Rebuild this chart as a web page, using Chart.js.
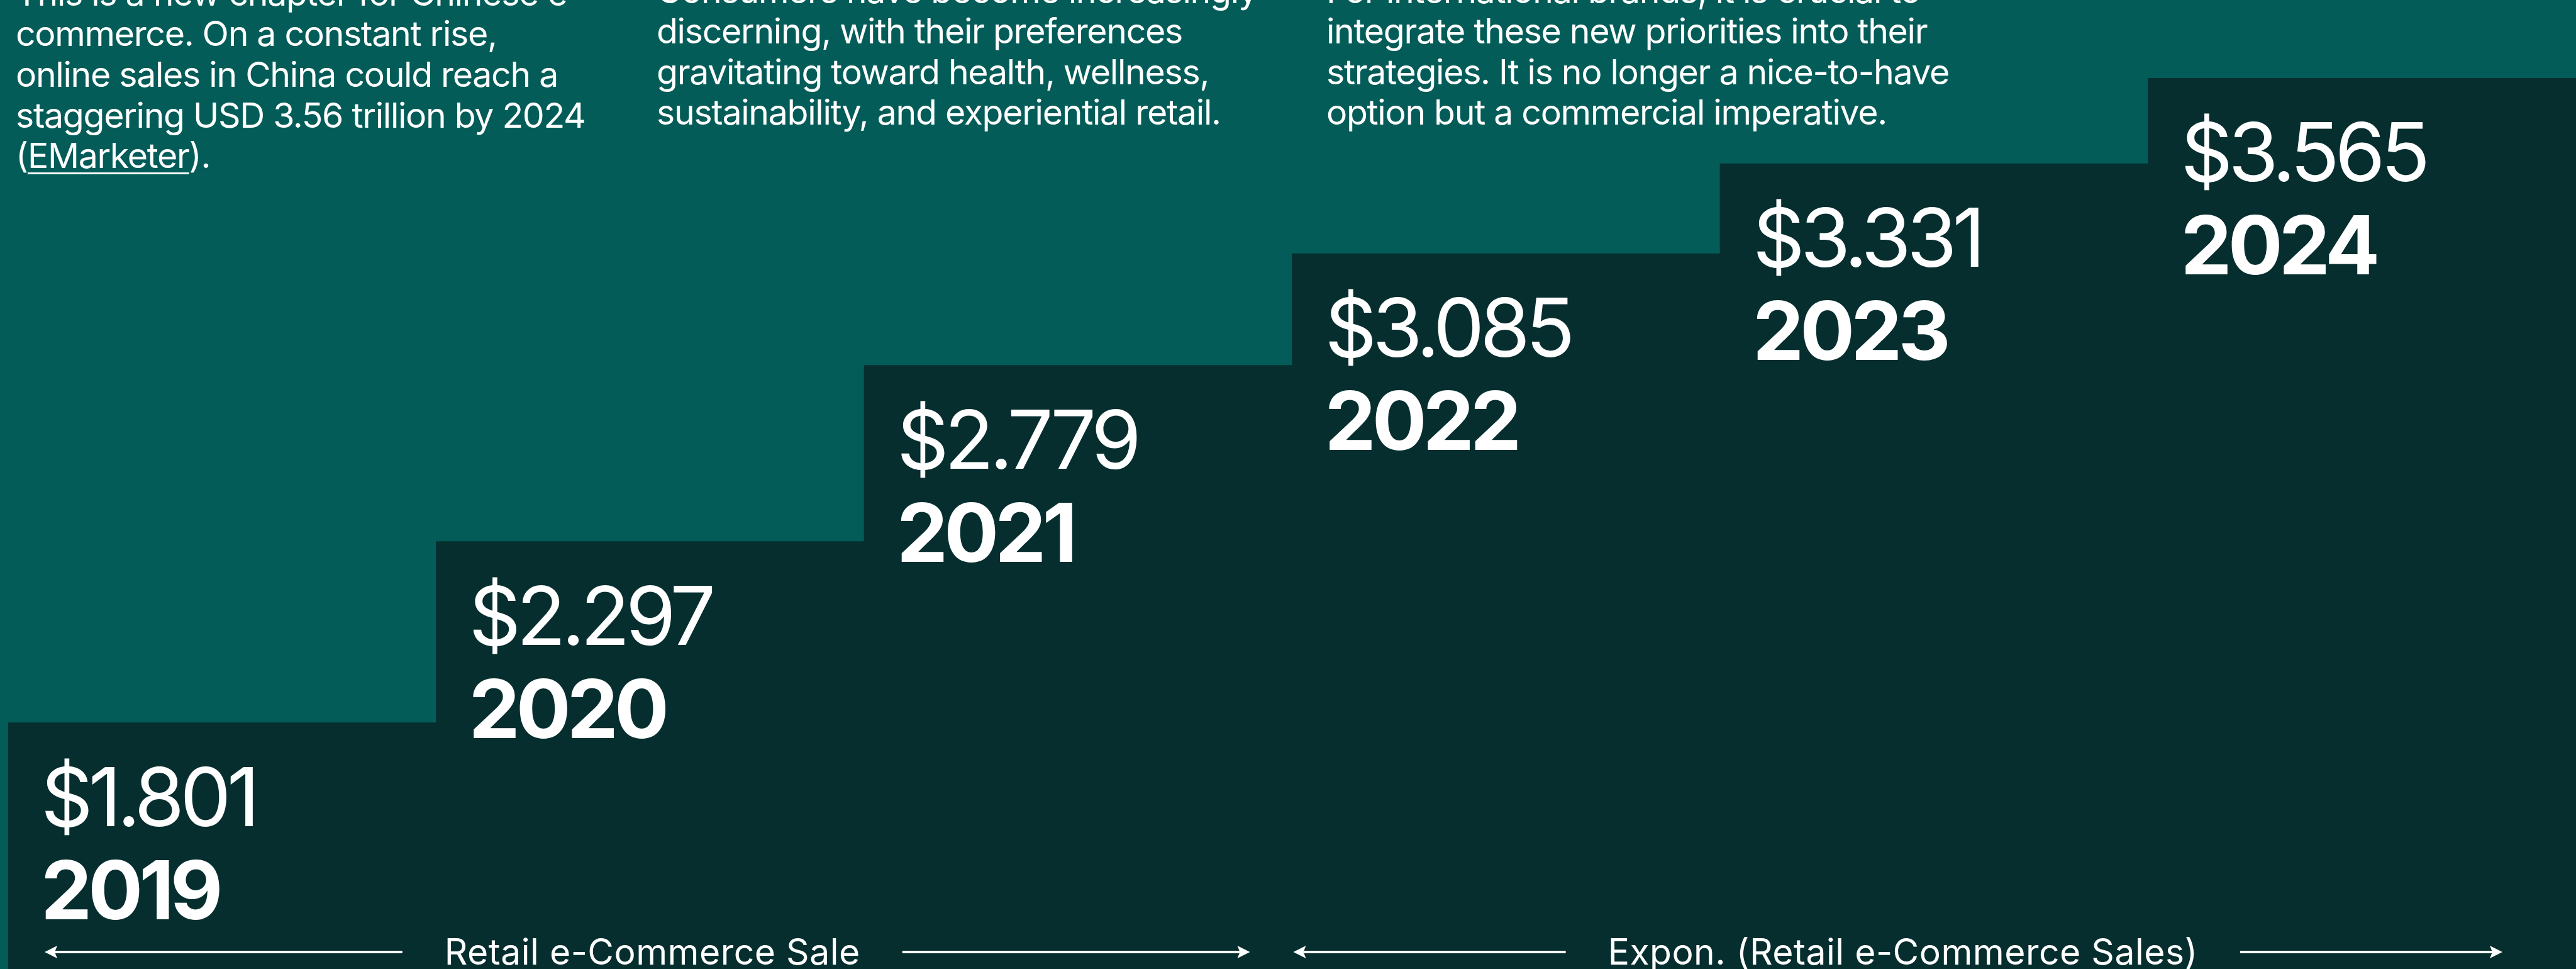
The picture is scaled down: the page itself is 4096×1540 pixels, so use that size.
<!DOCTYPE html>
<html>
<head>
<meta charset="utf-8">
<script src="https://cdn.jsdelivr.net/npm/chart.js@4"></script>
<style>
  body { margin: 0; background: #035c58; overflow: hidden; }
  #wrap { position: relative; width: 4096px; height: 1540px; overflow: hidden; }
  #salesChart { position: absolute; left: 0; top: 0; }
  .note {
    position: absolute; margin: 0; color: #fff;
    font-family: Inter, "Noto Sans", sans-serif; font-weight: 400;
    font-size: 55.4px; line-height: 64.6px; letter-spacing: -1.3px;
    white-space: nowrap;
  }
  .note u { text-decoration-thickness: 3px; text-underline-offset: 7px; }
</style>
</head>
<body>
<div id="wrap">
  <canvas id="salesChart" width="4096" height="1540"></canvas>
  <p class="note" style="left:25px; top:-43.2px">This is a new chapter for Chinese e-<br>commerce. On a constant rise,<br>online sales in China could reach a<br>staggering USD 3.56 trillion by 2024<br>(<u>EMarketer</u>).</p>
  <p class="note" style="left:1044px; top:-47.4px">Consumers have become increasingly<br>discerning, with their preferences<br>gravitating toward health, wellness,<br>sustainability, and experiential retail.</p>
  <p class="note" style="left:2109px; top:-47.4px">For international brands, it is crucial to<br>integrate these new priorities into their<br>strategies. It is no longer a nice-to-have<br>option but a commercial imperative.</p>
</div>
<script>
// retail e-commerce sales, trillion USD
var years = ['2019', '2020', '2021', '2022', '2023', '2024'];
var sales = [1.801, 2.297, 2.779, 3.085, 3.331, 3.565];
var valueLabels = ['$1.801', '$2.297', '$2.779', '$3.085', '$3.331', '$3.565'];

// bottom captions and the bars they span
var groupLabels = ['Retail e-Commerce Sale', 'Expon. (Retail e-Commerce Sales)'];
var groupRanges = [[0, 2], [3, 5]];

var barColor = '#062e2e';
var textFont = 'Inter, "Noto Sans", sans-serif';

// value + year written in the top left corner of each step
var barLabels = {
    id: 'barLabels',
    afterDatasetsDraw: function (chart) {
        var ctx = chart.ctx;
        var bars = chart.getDatasetMeta(0).data;
        ctx.save();
        ctx.fillStyle = '#fff';
        ctx.textAlign = 'left';
        ctx.textBaseline = 'alphabetic';
        bars.forEach(function (bar, i) {
            var left = bar.x - bar.width / 2 + 52;
            ctx.font = '400 129px ' + textFont;
            ctx.letterSpacing = '-7px';
            ctx.fillText(valueLabels[i], left, bar.y + 164);
            ctx.font = '700 129px ' + textFont;
            ctx.letterSpacing = '-6px';
            ctx.fillText(years[i], left, bar.y + 312);
        });
        ctx.restore();
    }
};

// arrows under the bars: <---- caption ---->
var bracketInsets = [[58, 67], [2, 117]];

function arrowLine(ctx, from, to, y) {
    var dir = to > from ? 1 : -1;
    ctx.beginPath();
    ctx.moveTo(from, y);
    ctx.lineTo(to - dir * 16, y);
    ctx.stroke();
    ctx.beginPath();
    ctx.moveTo(to, y);
    ctx.lineTo(to - dir * 20, y - 10);
    ctx.lineTo(to - dir * 16, y);
    ctx.lineTo(to - dir * 20, y + 10);
    ctx.closePath();
    ctx.fill();
}

var brackets = {
    id: 'brackets',
    afterDraw: function (chart) {
        var ctx = chart.ctx;
        var x = chart.scales.x;
        var step = (x.right - x.left) / years.length;
        var y = 1513;
        ctx.save();
        ctx.fillStyle = '#fff';
        ctx.strokeStyle = '#fff';
        ctx.lineWidth = 4;
        ctx.font = '400 57px ' + textFont;
        ctx.letterSpacing = '0.5px';
        ctx.textAlign = 'center';
        ctx.textBaseline = 'alphabetic';
        groupRanges.forEach(function (r, i) {
            var a = x.getPixelForValue(r[0]) - step / 2 + bracketInsets[i][0];
            var b = x.getPixelForValue(r[1]) + step / 2 - bracketInsets[i][1];
            var mid = (a + b) / 2 + 8;
            var half = ctx.measureText(groupLabels[i]).width / 2;
            ctx.fillText(groupLabels[i], mid, 1533);
            arrowLine(ctx, mid - half - 67, a, y);
            arrowLine(ctx, mid + half + 67, b, y);
        });
        ctx.restore();
    }
};

function drawSales() {
    var ctx = document.getElementById('salesChart');
    new Chart(ctx, {
        type: 'bar',
        data: {
            labels: years,
            datasets: [{
                data: sales,
                backgroundColor: barColor,
                borderWidth: 0,
                categoryPercentage: 1,
                barPercentage: 1
            }]
        },
        options: {
            responsive: false,
            animation: false,
            devicePixelRatio: 1,
            layout: { padding: { left: 13, right: 0, top: 0, bottom: 0 } },
            plugins: {
                legend: { display: false },
                tooltip: { enabled: false }
            },
            scales: {
                x: { display: false },
                y: { display: false, min: 1.127, max: 3.779 }
            }
        },
        plugins: [barLabels, brackets]
    });
}

document.fonts.load('400 55px Inter').then(function () {
    return document.fonts.load('700 129px Inter');
}).then(drawSales, drawSales);
</script>
</body>
</html>
